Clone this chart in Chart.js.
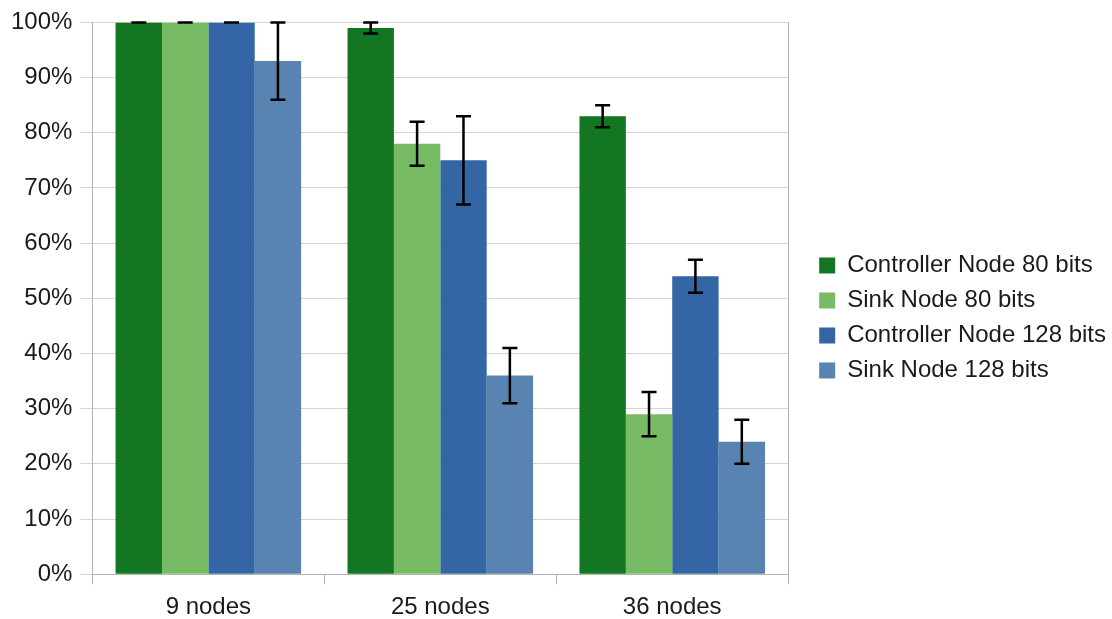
<!DOCTYPE html>
<html>
<head>
    <meta charset="UTF-8">
    <title>Controller and Sink Node percentages</title>
    <script src="https://cdn.jsdelivr.net/npm/chart.js"></script>
    <style>
        html, body { margin: 0; padding: 0; background: #fff; }
        .chart-container { width: 1112px; height: 619px; }
    </style>
</head>
<body>
    <div class="chart-container">
        <canvas id="nodeChart"></canvas>
    </div>

    <script type="text/javascript">
        const categories = ['9 nodes', '25 nodes', '36 nodes'];
        const seriesNames = ['Controller Node 80 bits', 'Sink Node 80 bits', 'Controller Node 128 bits', 'Sink Node 128 bits'];

        const controller80 = [100, 99, 83];
        const sink80 = [100, 78, 29];
        const controller128 = [100, 75, 54];
        const sink128 = [93, 36, 24];

        // +/- error for each bar
        const controller80Err = [0, 1, 2];
        const sink80Err = [0, 4, 4];
        const controller128Err = [0, 8, 3];
        const sink128Err = [7, 5, 4];

        const yTicks = [0, 10, 20, 30, 40, 50, 60, 70, 80, 90, 100];

        const seriesValues = [controller80, sink80, controller128, sink128];
        const seriesErrors = [controller80Err, sink80Err, controller128Err, sink128Err];
        const seriesColors = ['#127622', '#77bc65', '#3465a4', '#5983b0'];

        const errorBars = {
            id: 'errorBars',
            afterDatasetsDraw(chart) {
                const ctx = chart.ctx;
                const yScale = chart.scales.y;
                ctx.save();
                ctx.strokeStyle = '#000';
                ctx.lineWidth = 2.5;
                chart.data.datasets.forEach((ds, i) => {
                    const meta = chart.getDatasetMeta(i);
                    meta.data.forEach((bar, j) => {
                        const v = ds.data[j];
                        const e = ds.errors[j];
                        const top = yScale.getPixelForValue(v + e);
                        const bot = yScale.getPixelForValue(v - e);
                        const half = 7.5;
                        ctx.beginPath();
                        ctx.moveTo(bar.x, top);
                        ctx.lineTo(bar.x, bot);
                        ctx.moveTo(bar.x - half, top);
                        ctx.lineTo(bar.x + half, top);
                        ctx.moveTo(bar.x - half, bot);
                        ctx.lineTo(bar.x + half, bot);
                        ctx.stroke();
                    });
                });
                ctx.restore();
            }
        };

        const datasets = seriesNames.map((name, i) => ({
            label: name,
            data: seriesValues[i],
            errors: seriesErrors[i],
            backgroundColor: seriesColors[i],
            borderWidth: 0,
            categoryPercentage: 0.8,
            barPercentage: 1.0
        }));

        const font = { family: 'Liberation Sans', size: 24 };

        new Chart(document.getElementById('nodeChart').getContext('2d'), {
            type: 'bar',
            data: { labels: categories, datasets: datasets },
            plugins: [errorBars],
            options: {
                responsive: true,
                maintainAspectRatio: false,
                animation: false,
                layout: { padding: { left: 3, top: 5, right: -4, bottom: -12 } },
                plugins: {
                    legend: {
                        position: 'right',
                        maxWidth: 330,
                        labels: {
                            font: font,
                            color: '#1a1a1a',
                            boxWidth: 16,
                            boxHeight: 16,
                            padding: 11
                        }
                    },
                    tooltip: { enabled: false }
                },
                scales: {
                    x: {
                        grid: {
                            offset: true,
                            drawOnChartArea: false,
                            tickLength: 10,
                            color: '#b3b3b3'
                        },
                        border: { color: '#b3b3b3' },
                        ticks: { font: font, color: '#1a1a1a', padding: 9 }
                    },
                    y: {
                        min: 0,
                        max: 100,
                        afterBuildTicks: scale => {
                            scale.ticks = yTicks.map(v => ({ value: v }));
                        },
                        grid: { color: '#d4d4d4', tickLength: 12 },
                        border: { color: '#b3b3b3' },
                        ticks: {
                            font: font,
                            color: '#1a1a1a',
                            padding: 8,
                            callback: v => v + '%'
                        }
                    },
                    yRight: {
                        position: 'right',
                        grid: { display: false },
                        ticks: { display: false },
                        border: { display: true, color: '#b3b3b3' },
                        afterFit: scale => { scale.width = 20; }
                    }
                }
            }
        });
    </script>
</body>
</html>
